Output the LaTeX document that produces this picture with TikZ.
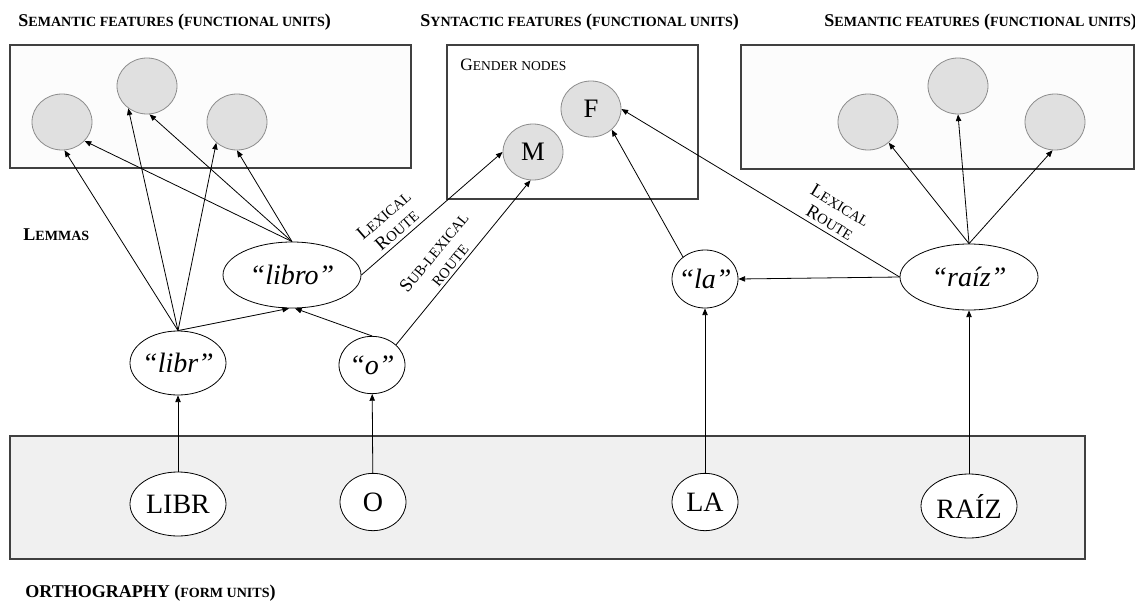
\documentclass[tikz,border=0pt]{standalone}
\usepackage{fontspec}
\setmainfont{Liberation Serif}
\usepackage{graphicx}
\usepackage{tikz}
\usetikzlibrary{arrows.meta,positioning,shapes.geometric}
\newcommand{\lowsc}[1]{\scalebox{0.78}{#1}}
\tikzset{%
	feature/.style = {draw=black!45, fill=black!12, ellipse, minimum width=45pt, minimum height=42pt, inner sep=-6pt, font=\fontsize{20}{22}\selectfont}, % functional unit
	lemma/.style   = {draw, ellipse, fill=white, inner sep=-8pt, font=\fontsize{21}{23}\selectfont\itshape}, % lemma
	form/.style    = {draw, ellipse, fill=white, inner sep=-8pt, font=\fontsize{21}{23}\selectfont}, % form unit
	region/.style  = {draw=black!75, line width=0.8pt},
	heading/.style = {anchor=west, inner sep=0pt, font=\fontsize{13.5}{15}\selectfont\bfseries},
	route/.style   = {align=center, sloped, inner sep=1pt, font=\fontsize{14}{15}\selectfont},
}

\begin{document}
\begin{tikzpicture}[x=0.75pt, y=-0.75pt, line width=0.6pt, >={Triangle[length=5pt,width=4pt]}]
		\useasboundingbox[fill=white] (0,0) rectangle (1135,603);
		% boxes
		\draw[region, fill=black!1] (10,45) rectangle (411,168);
		\draw[region] (447,45) rectangle (698,199);
		\draw[region, fill=black!1] (741,45) rectangle (1134,169);
		\draw[region, fill=black!6] (10,436) rectangle (1085,559);
		% headings
		\node[heading] (t1) at (18,22) {S\lowsc{EMANTIC FEATURES} (\lowsc{FUNCTIONAL UNITS})};
		\node[heading] (t2) at (420,22) {S\lowsc{YNTACTIC FEATURES} (\lowsc{FUNCTIONAL UNITS})};
		\node[heading] (t3) at (824,22) {S\lowsc{EMANTIC FEATURES} (\lowsc{FUNCTIONAL UNITS})};
		\node[heading] (lem) at (23,235) {L\lowsc{EMMAS}};
		\node[heading] (orth) at (25,593) {ORTHOGRAPHY (\lowsc{FORM UNITS})};
		\node[heading, font=\fontsize{13}{15}\selectfont] (gen) at (460,65) {G\lowsc{ENDER NODES}};
		% semantic and syntactic units
		\node[feature] (sl1) at (62,122) {};
		\node[feature] (sl2) at (147,86) {};
		\node[feature] (sl3) at (237,122) {};
		\node[feature] (sr1) at (868,122) {};
		\node[feature] (sr2) at (958,86) {};
		\node[feature] (sr3) at (1055,122) {};
		\node[feature] (F) at (591,109) {F};
		\node[feature] (M) at (533,152) {M};
		% lemmas
		\node[lemma, minimum width=103.5pt, minimum height=49.5pt] (libro) at (292,275) {“libro”};
		\node[lemma, minimum width=72pt, minimum height=48pt] (libr) at (178,363) {“libr”};
		\node[lemma, minimum width=49.5pt, minimum height=43pt] (o) at (372,365) {“o”};
		\node[lemma, minimum width=49.5pt, minimum height=43.5pt] (la) at (705,279) {“la”};
		\node[lemma, minimum width=103.5pt, minimum height=49.5pt] (raiz) at (969,277) {“raíz”};
		% orthography
		\node[form, minimum width=72pt, minimum height=48pt] (LIBR) at (178,504) {LIBR};
		\node[form, minimum width=49.5pt, minimum height=43pt] (O) at (373,502) {O};
		\node[form, minimum width=49.5pt, minimum height=43pt] (LA) at (705,502) {LA};
		\node[form, minimum width=72pt, minimum height=48pt] (RAIZ) at (969,506) {RAÍZ};
		\draw[->] (LIBR) -- (libr);
		\draw[->] (O) -- (o);
		\draw[->] (LA) -- (la);
		\draw[->] (RAIZ) -- (raiz);
		\draw[->] (libr.north) -- (sl1.275);
		\draw[->] (libr.north) -- (sl2.230);
		\draw[->] (libr.north) -- (sl3.225);
		\draw[->] (libr.north) -- (libro.265);
		\draw[->] (o.north) -- (libro.275);
		\draw[->] (libro.north) -- (sl1.320);
		\draw[->] (libro.north) -- (sl2.275);
		\draw[->] (libro.north) -- (sl3.270);
		\draw[->] (libro.east) -- node[route, pos=0.3, above=2pt] {L\lowsc{EXICAL}\\R\lowsc{OUTE}} (M.west);
		\draw[->] (o.40) -- node[route, pos=0.45, above=1pt] {S\lowsc{UB-LEXICAL}\\\lowsc{ROUTE}} (M.265);
		\draw[->] (la.135) -- (F.315);
		\draw[->] (raiz.west) -- node[route, pos=0.27, above=2pt] {L\lowsc{EXICAL}\\R\lowsc{OUTE}} (F.east);
		\draw[->] (raiz.west) -- (la.east);
		\draw[->] (raiz.north) -- (sr1.315);
		\draw[->] (raiz.north) -- (sr2.south);
		\draw[->] (raiz.north) -- (sr3.265);
		\end{tikzpicture}
\end{document}
